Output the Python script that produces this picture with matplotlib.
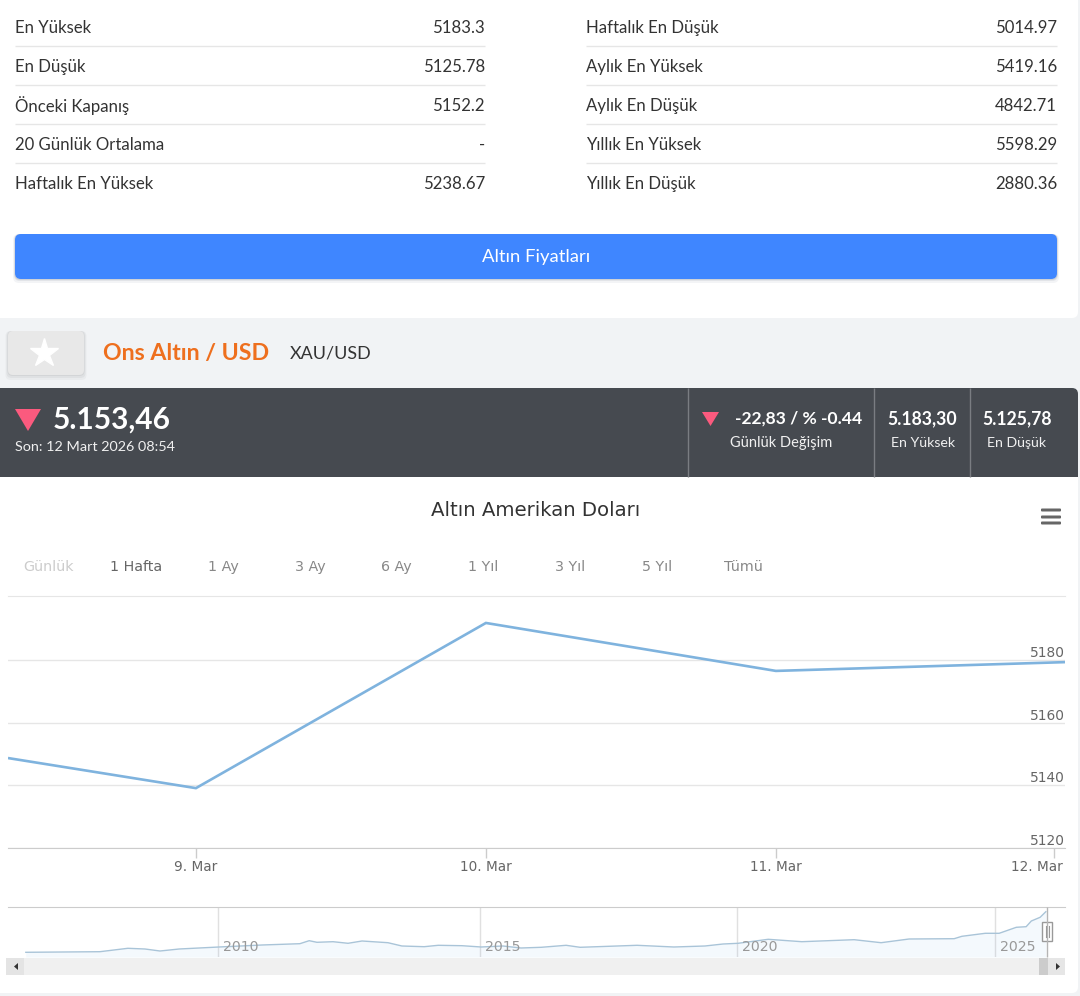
import matplotlib
matplotlib.use("Agg")
import matplotlib.pyplot as plt
from matplotlib.patches import FancyBboxPatch, Rectangle, Polygon
from matplotlib.transforms import ScaledTranslation

# table
left_labels = ["En Yüksek", "En Düşük", "Önceki Kapanış", "20 Günlük Ortalama", "Haftalık En Yüksek"]
left_values = ["5183.3", "5125.78", "5152.2", "-", "5238.67"]
right_labels = ["Haftalık En Düşük", "Aylık En Yüksek", "Aylık En Düşük", "Yıllık En Yüksek", "Yıllık En Düşük"]
right_values = ["5014.97", "5419.16", "4842.71", "5598.29", "2880.36"]

# main chart, x is day of March
days = [8.352, 9, 10, 11, 11.997]
prices = [5148.7, 5139.1, 5191.8, 5176.5, 5179.3]
y_ticks = [5120, 5140, 5160, 5180]
x_ticks = [9, 10, 11, 11.96]
x_labels = ["9. Mar", "10. Mar", "11. Mar", "12. Mar"]
ranges = ["Günlük", "1 Hafta", "1 Ay", "3 Ay", "6 Ay", "1 Yıl", "3 Yıl", "5 Yıl", "Tümü"]

# navigator
nav_years = [2006.29, 2007.72, 2008.26, 2008.59, 2008.88, 2009.25, 2010.02, 2010.85, 2011.58, 2011.76,
             2011.91, 2012.22, 2012.51, 2012.78, 2013.28, 2013.55, 2013.98, 2014.25, 2014.71, 2015.08,
             2015.50, 2015.85, 2016.24, 2016.72, 2016.99, 2018.09, 2018.80, 2019.40, 2019.75, 2020.04,
             2020.62, 2021.27, 2022.28, 2022.80, 2023.34, 2024.21, 2024.36, 2024.81, 2025.08, 2025.41,
             2025.60, 2025.70, 2025.87, 2025.98]
nav_prices = [850, 910, 1250, 1180, 980, 1180, 1380, 1580, 1710, 2010,
              1850, 1910, 1750, 1980, 1810, 1480, 1410, 1550, 1510, 1380,
              1480, 1280, 1350, 1550, 1350, 1550, 1380, 1480, 1680, 1750,
              2150, 1910, 2110, 1810, 2180, 2210, 2450, 2750, 2750, 3350,
              3410, 3980, 4350, 4910]
# the navigator axis is not quite even, so the year lines sit where they were read
nav_ticks = [2010, 2015.06, 2020.02, 2025]
nav_labels = ["2010", "2015", "2020", "2025"]

W, H = 1080, 996
UI = ["Lato", "DejaVu Sans"]
CHART = "DejaVu Sans"

fig = plt.figure(figsize=(W / 100, H / 100), dpi=100, facecolor="white")

# page chrome, drawn in pixel coordinates
bg = fig.add_axes([0, 0, 1, 1], zorder=0)
bg.set_xlim(0, W)
bg.set_ylim(H, 0)
bg.axis("off")


def box(x0, y0, x1, y1, color, r=0, ax=bg, **kw):
    if r:
        p = FancyBboxPatch((x0 + r, y0 + r), x1 - x0 - 2 * r, y1 - y0 - 2 * r,
                           boxstyle="round,pad=%g,rounding_size=%g" % (r, r),
                           fc=color, ec="none", **kw)
    else:
        p = Rectangle((x0, y0), x1 - x0, y1 - y0, fc=color, ec="none", **kw)
    ax.add_patch(p)


def label(x, y, s, size, color="#333333", ha="left", weight="normal", family=UI, **kw):
    bg.text(x, y + 1, s, fontsize=size, color=color, ha=ha, va="center",
            fontweight=weight, family=family, **kw)


# grey page behind white cards
box(0, 0, W, H, "#f1f3f5")
box(-20, -20, 1078, 318, "white", r=6)
box(-20, 477, 1078, 993, "white", r=6)
box(-20, 388, 1078, 500, "#464a50", r=6)
box(-20, 477, 1078, 500, "white")

# table
for i in range(5):
    y = 27 + i * 39
    label(15, y, left_labels[i], 12.1)
    label(485, y, left_values[i], 12.1, ha="right")
    label(586, y, right_labels[i], 12.1)
    label(1057, y, right_values[i], 12.1, ha="right")
    if i < 4:
        bg.plot([15, 485], [y + 19, y + 19], color="#e6e6e6", lw=1, solid_capstyle="butt")
        bg.plot([586, 1057], [y + 19, y + 19], color="#e6e6e6", lw=1, solid_capstyle="butt")

# button
for off, a in [(4, 0.05), (2, 0.08), (1, 0.1)]:
    box(15 - off / 2, 234, 1057 + off / 2, 279 + off, "#203050", r=6, alpha=a)
box(15, 234, 1057, 279, "#3f86ff", r=6)
label(536, 256, "Altın Fiyatları", 13.3, color="white", ha="center")

# header
for off, a in [(5, 0.03), (3, 0.04), (1, 0.05)]:
    box(8 - off / 2, 331, 84 + off / 2, 375 + off, "#000000", r=5, alpha=a)
box(8, 331, 84, 375, "#e8e8e8", r=5)
bg.plot([44], [353], marker="*", ms=21, color="white", mec="white")
label(103, 352, "Ons Altın / USD", 16.7, color="#ee6f1e", weight="bold")
label(290, 352, "XAU/USD", 12.9, color="#333333")

# dark price bar
bg.add_patch(Polygon([(15, 409), (41, 409), (28, 431)], fc="#fb5a7e", ec="none"))
label(53, 419, "5.153,46", 21.5, color="white", weight="bold")
label(15, 446, "Son: 12 Mart 2026 08:54", 10.4, color="#f0f0f0")
for x in [688, 874, 970]:
    bg.plot([x, x], [388, 477], color="#7a7d82", lw=1, solid_capstyle="butt")
bg.add_patch(Polygon([(702, 412), (719, 412), (710.5, 426)], fc="#fb5a7e", ec="none"))
label(798.5, 418, "-22,83 / % -0.44", 12.6, color="white", ha="center", weight="bold")
label(781, 442, "Günlük Değişim", 10.5, color="#f0f0f0", ha="center")
label(922.5, 418, "5.183,30", 12.7, color="white", ha="center", weight="bold")
label(923, 442, "En Yüksek", 10.2, color="#f0f0f0", ha="center")
label(1017.5, 418, "5.125,78", 12.7, color="white", ha="center", weight="bold")
label(1017, 442, "En Düşük", 10.2, color="#f0f0f0", ha="center")

# chart title, menu, range selector
label(536, 509, "Altın Amerikan Doları", 14.2, ha="center", family=CHART)
for y in [510, 517, 523]:
    box(1041, y - 1.5, 1061, y + 1.5, "#666666", r=1)
range_x = [49, 136, 223, 310, 396, 483, 570, 657, 743]
for i in range(len(ranges)):
    c = "#cccccc" if i == 0 else "#888888" if i > 1 else "#666666"
    label(range_x[i], 566, ranges[i], 10.3, color=c, ha="center", family=CHART)


def px_axes(x0, y0, x1, y1):
    a = fig.add_axes([x0 / W, 1 - y1 / H, (x1 - x0) / W, (y1 - y0) / H], zorder=2)
    a.patch.set_alpha(0)
    for s in a.spines.values():
        s.set_visible(False)
    return a


# main chart
ax = px_axes(8, 596, 1065, 848)
ax.set_xlim(8.352, 11.997)
ax.set_ylim(5120, 5200.4)
ax.plot(days, prices, color="#7fb3de", lw=1.9, solid_joinstyle="miter", solid_capstyle="butt", zorder=3)
ax.set_yticks(y_ticks)
ax.yaxis.tick_right()
ax.tick_params(axis="y", length=0, pad=0, labelsize=9.9, labelcolor="#666666")
for t in ax.get_yticklabels():
    t.set_ha("right")
    t.set_va("bottom")
ax.grid(axis="y", color="#e6e6e6", lw=1)
ax.set_axisbelow(True)
ax.spines["top"].set_visible(True)
ax.spines["top"].set_color("#e6e6e6")
ax.spines["bottom"].set_visible(True)
ax.spines["bottom"].set_color("#cccccc")
ax.set_xticks(x_ticks, x_labels)
ax.tick_params(axis="x", length=7, width=1, color="#cccccc", pad=1.5, labelsize=9.8, labelcolor="#666666")
last = ax.get_xticklabels()[-1]
last.set_ha("right")
last.set_transform(last.get_transform() + ScaledTranslation(0.085, 0, fig.dpi_scale_trans))

# navigator
nav = px_axes(8, 907, 1065, 957)
nav.set_xlim(2005.946, 2026.35)
nav.set_ylim(380, 5380)
nav.fill_between(nav_years, nav_prices, 380, color="#7cb5ec", alpha=0.08, lw=0)
nav.plot(nav_years, nav_prices, color="#a9c4d8", lw=1)
nav.spines["top"].set_visible(True)
nav.spines["top"].set_color("#cccccc")
nav.set_xticks(nav_ticks)
nav.set_yticks([])
nav.tick_params(axis="x", length=0, labelbottom=False)
nav.grid(axis="x", color="#e0e0e0", lw=1)
nav.set_axisbelow(True)
for yr, s in zip(nav_ticks, nav_labels):
    nav.annotate(s, (yr, 1350), xytext=(3.5, 0), textcoords="offset points", va="center",
                 color="#999999", fontsize=10.2)

# scrollbar and navigator handle
top = fig.add_axes([0, 0, 1, 1], zorder=3)
top.set_xlim(0, W)
top.set_ylim(H, 0)
top.axis("off")
box(6, 958, 1065, 975, "#f0f0f0", ax=top)
box(6, 958, 24, 975, "#e4e4e4", ax=top)
box(1039, 958, 1048, 975, "#cccccc", ax=top)
box(1048, 958, 1065, 975, "#e6e6e6", ax=top)
top.add_patch(Polygon([(18, 963), (18, 970), (14, 966.5)], fc="#333333", ec="none"))
top.add_patch(Polygon([(1056, 963), (1056, 970), (1060, 966.5)], fc="#333333", ec="none"))
top.plot([1046.7, 1046.7], [907, 957], color="#b5b5b5", lw=1, solid_capstyle="butt")
top.add_patch(Rectangle((1042, 922), 10, 19, fc="white", ec="#999999", lw=1))
top.plot([1045.5, 1045.5], [926, 937], color="#999999", lw=0.8)
top.plot([1048.5, 1048.5], [926, 937], color="#999999", lw=0.8)

fig.savefig("out.png", dpi=100)
